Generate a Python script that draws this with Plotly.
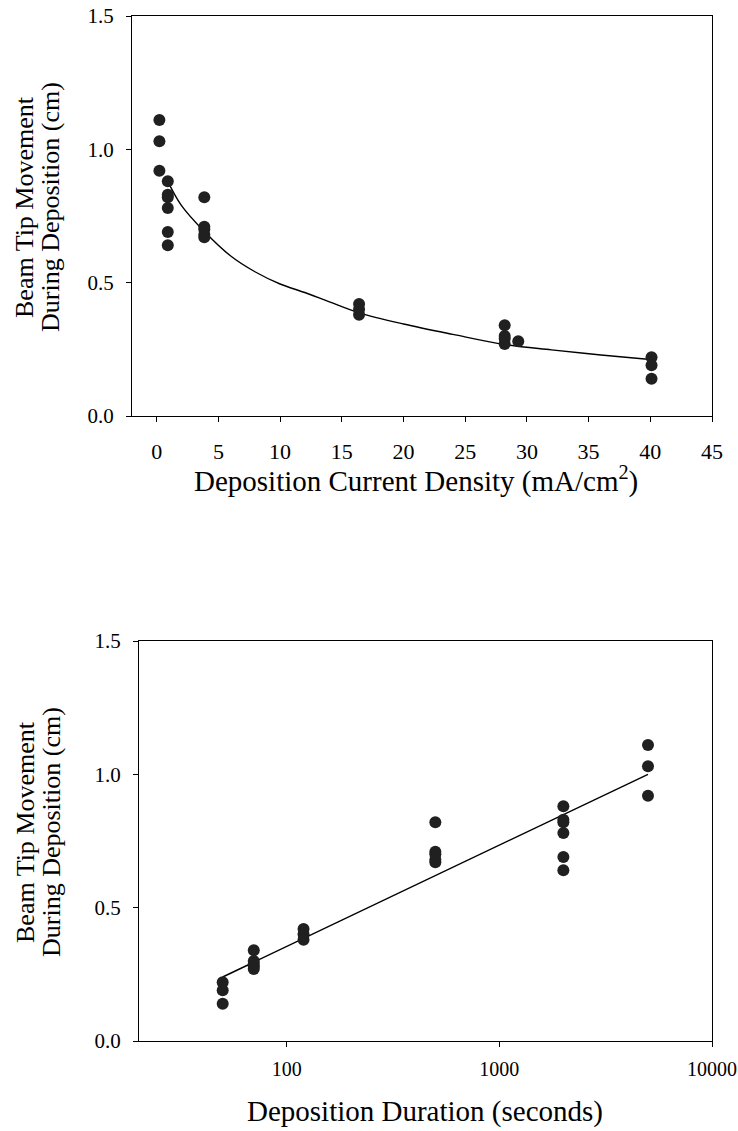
import plotly.graph_objects as go

# ---- data ----
# top panel: current density (mA/cm^2) vs beam tip movement (cm)
density_x = [0.22, 0.22, 0.22,
             0.9, 0.9, 0.9, 0.9, 0.9, 0.9,
             3.86, 3.86, 3.86, 3.86, 3.86,
             16.4, 16.4, 16.4,
             28.2, 28.2, 28.2, 28.2, 29.3,
             40.1, 40.1, 40.1]
movement_top = [1.11, 1.03, 0.92,
                0.88, 0.83, 0.82, 0.78, 0.69, 0.64,
                0.82, 0.71, 0.70, 0.68, 0.67,
                0.42, 0.40, 0.38,
                0.34, 0.30, 0.29, 0.27, 0.28,
                0.22, 0.19, 0.14]
fit_top_x = [0.9, 2, 3.9, 6, 8, 10, 12, 14, 16.4, 20, 24, 28.2, 32, 36, 40]
fit_top_y = [0.88, 0.79, 0.69, 0.60, 0.54, 0.495, 0.463, 0.428, 0.387,
             0.345, 0.306, 0.268, 0.248, 0.229, 0.212]

# bottom panel: deposition duration (s) vs beam tip movement (cm)
duration_x = [50, 50, 50,
              70, 70, 70, 70, 70,
              120, 120, 120,
              500, 500, 500, 500, 500,
              2000, 2000, 2000, 2000, 2000, 2000,
              5000, 5000, 5000]
movement_bot = [0.22, 0.19, 0.14,
                0.34, 0.30, 0.29, 0.28, 0.27,
                0.42, 0.40, 0.38,
                0.82, 0.71, 0.70, 0.68, 0.67,
                0.88, 0.83, 0.82, 0.78, 0.69, 0.64,
                1.11, 1.03, 0.92]
fit_bot_x = [50, 5000]
fit_bot_y = [0.24, 1.0]

top_ticks = [0, 5, 10, 15, 20, 25, 30, 35, 40, 45]
y_ticks = [0.0, 0.5, 1.0, 1.5]
y_ticklabels = ["0.0", "0.5", "1.0", "1.5"]
bot_ticks = [100, 1000, 10000]
bot_ticklabels = ["100", "1000", "10000"]

FONT = "Liberation Serif, Times New Roman, serif"
W, H = 738, 1131
DOT = "#202020"

def px(xp):
    return xp / W

def py(yp):
    return 1 - yp / H

fig = go.Figure()

fig.add_trace(go.Scatter(x=fit_top_x, y=fit_top_y, mode="lines",
                         line=dict(color="black", width=1.4, shape="spline"),
                         xaxis="x", yaxis="y", showlegend=False, hoverinfo="skip"))
fig.add_trace(go.Scatter(x=density_x, y=movement_top, mode="markers",
                         marker=dict(size=12, color=DOT),
                         xaxis="x", yaxis="y", showlegend=False))

fig.add_trace(go.Scatter(x=fit_bot_x, y=fit_bot_y, mode="lines",
                         line=dict(color="black", width=1.4),
                         xaxis="x2", yaxis="y2", showlegend=False, hoverinfo="skip"))
fig.add_trace(go.Scatter(x=duration_x, y=movement_bot, mode="markers",
                         marker=dict(size=12, color=DOT),
                         xaxis="x2", yaxis="y2", showlegend=False))

axis_common = dict(showline=True, linecolor="black", linewidth=1.3, mirror=True,
                   ticks="outside", ticklen=5, tickwidth=1, tickcolor="black",
                   showgrid=False, zeroline=False, automargin=False,
                   ticklabeloverflow="allow")

def tf(size):
    return dict(family=FONT, size=size, color="black")

fig.update_layout(
    width=W, height=H,
    margin=dict(l=0, r=0, t=0, b=0, autoexpand=False),
    paper_bgcolor="white", plot_bgcolor="white",
    font=dict(family=FONT, color="black"),
    xaxis=dict(domain=[px(132), px(712)], range=[-2, 45], tickvals=top_ticks,
               anchor="y", ticklabelstandoff=10, tickfont=tf(22), **axis_common),
    yaxis=dict(domain=[py(416), py(16)], range=[0, 1.5], tickvals=y_ticks,
               ticktext=y_ticklabels, anchor="x", ticklabelstandoff=8,
               tickfont=tf(21), **axis_common),
    xaxis2=dict(domain=[px(139), px(712)], type="log",
                range=[1.3054, 4.0], tickvals=bot_ticks, ticktext=bot_ticklabels,
                anchor="y2", ticklabelstandoff=5, tickfont=tf(20), **axis_common),
    yaxis2=dict(domain=[py(1041), py(641)], range=[0, 1.5], tickvals=y_ticks,
                ticktext=y_ticklabels, anchor="x2", ticklabelstandoff=8,
                tickfont=tf(21), **axis_common),
)

ann_font = dict(family=FONT, size=29, color="black")
annotations = [
    dict(text="Deposition Current Density (mA/cm<sup>2</sup>)", x=px(416), y=py(479),
         xref="paper", yref="paper", showarrow=False, font=ann_font,
         xanchor="center", yanchor="middle"),
    dict(text="Deposition Duration (seconds)", x=px(425), y=py(1111),
         xref="paper", yref="paper", showarrow=False, font=ann_font,
         xanchor="center", yanchor="middle"),
]
for yc in (207, 832):
    annotations.append(dict(text="Beam Tip Movement", x=px(25), y=py(yc),
                            xref="paper", yref="paper", showarrow=False,
                            font=dict(family=FONT, size=26, color="black"),
                            textangle=-90, xanchor="center", yanchor="middle"))
    annotations.append(dict(text="During Deposition (cm)", x=px(51), y=py(yc),
                            xref="paper", yref="paper", showarrow=False,
                            font=dict(family=FONT, size=26, color="black"),
                            textangle=-90, xanchor="center", yanchor="middle"))
fig.update_layout(annotations=annotations)

# remove the browser's default page margin so the figure fills the window exactly
fig.write_html("out.html",
               config={"displayModeBar": False},
               post_script="document.body.style.margin='0px';"
                           "document.body.style.overflow='hidden';")
